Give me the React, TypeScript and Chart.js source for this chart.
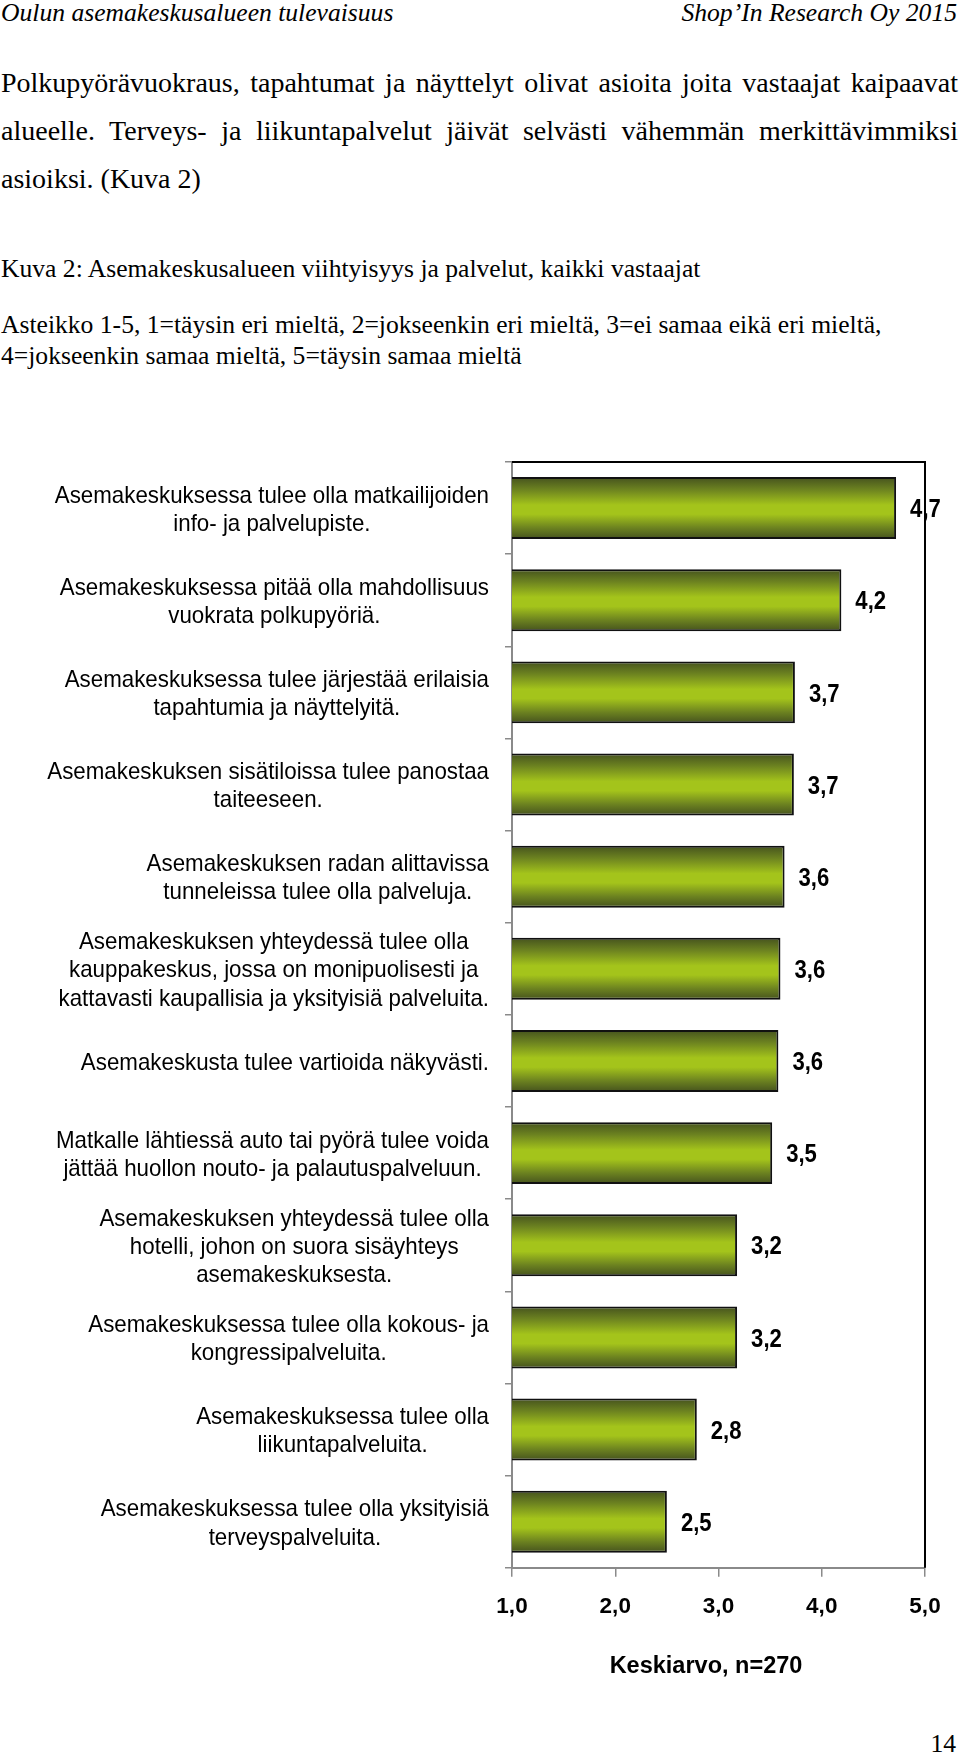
import React, { useEffect, useRef } from "react";
import { Chart, registerables } from "chart.js";

Chart.register(...registerables);

// ---- data ----
const categories: string[][] = [
  ["Asemakeskuksessa tulee olla matkailijoiden", "info- ja palvelupiste."],
  ["Asemakeskuksessa pitää olla mahdollisuus", "vuokrata polkupyöriä."],
  ["Asemakeskuksessa tulee järjestää erilaisia", "tapahtumia ja näyttelyitä."],
  ["Asemakeskuksen sisätiloissa tulee panostaa", "taiteeseen."],
  ["Asemakeskuksen radan alittavissa", "tunneleissa tulee olla palveluja."],
  [
    "Asemakeskuksen yhteydessä tulee olla",
    "kauppakeskus, jossa on monipuolisesti ja",
    "kattavasti kaupallisia ja yksityisiä palveluita.",
  ],
  ["Asemakeskusta tulee vartioida näkyvästi."],
  ["Matkalle lähtiessä auto tai pyörä tulee voida", "jättää huollon nouto- ja palautuspalveluun."],
  ["Asemakeskuksen yhteydessä tulee olla", "hotelli, johon on suora sisäyhteys", "asemakeskuksesta."],
  ["Asemakeskuksessa tulee olla kokous- ja", "kongressipalveluita."],
  ["Asemakeskuksessa tulee olla", "liikuntapalveluita."],
  ["Asemakeskuksessa tulee olla yksityisiä", "terveyspalveluita."],
];
const values: number[] = [4.72, 4.19, 3.74, 3.73, 3.64, 3.6, 3.58, 3.52, 3.18, 3.18, 2.79, 2.5];
const xMin = 1;
const xMax = 5;
const xStep = 1;
const xTitle = "Keskiarvo, n=270";

const fmt = (v: number) => v.toFixed(1).replace(".", ",");

const SANS = "'Liberation Sans', Arial, Helvetica, sans-serif";
const SERIF = "'Liberation Serif', 'Times New Roman', serif";

const framePlugin = {
  id: "frame",
  beforeDatasetsDraw(chart: any) {
    const { ctx, chartArea: a } = chart;
    ctx.save();
    ctx.strokeStyle = "#000";
    ctx.lineWidth = 2;
    ctx.beginPath();
    ctx.moveTo(a.left, a.top);
    ctx.lineTo(a.right, a.top);
    ctx.lineTo(a.right, a.bottom);
    ctx.stroke();
    ctx.restore();
  },
};

const LABEL_RIGHT = 489;
const LABEL_LINE = 28.3;
const LABEL_SX = 0.93;
const VALUE_SX = 0.85;

const yLabelPlugin = {
  id: "yLabels",
  afterDraw(chart: any) {
    const { ctx } = chart;
    const ys = chart.scales.y;
    ctx.save();
    ctx.font = `24px ${SANS}`;
    ctx.fillStyle = "#000";
    ctx.textAlign = "center";
    ctx.textBaseline = "middle";
    categories.forEach((lines, i) => {
      const w = Math.max(...lines.map((l) => ctx.measureText(l).width)) * LABEL_SX;
      const cx = LABEL_RIGHT - w / 2;
      const cy = ys.getPixelForValue(i) + 2;
      lines.forEach((l, j) => {
        ctx.save();
        ctx.translate(cx, cy + (j - (lines.length - 1) / 2) * LABEL_LINE);
        ctx.scale(LABEL_SX, 1);
        ctx.fillText(l, 0, 0);
        ctx.restore();
      });
    });
    ctx.restore();
  },
};

const valueLabelPlugin = {
  id: "valueLabels",
  afterDatasetsDraw(chart: any) {
    const { ctx } = chart;
    const meta = chart.getDatasetMeta(0);
    ctx.save();
    ctx.font = `bold 26px ${SANS}`;
    ctx.fillStyle = "#000";
    ctx.textAlign = "left";
    ctx.textBaseline = "middle";
    meta.data.forEach((bar: any, i: number) => {
      ctx.save();
      ctx.translate(bar.x + 14, bar.y + 2);
      ctx.scale(VALUE_SX, 1);
      ctx.fillText(fmt(values[i]), 0, 0);
      ctx.restore();
    });
    ctx.restore();
  },
};

const BAR_PCT = 0.672;

function barFill(context: any) {
  const chart = context.chart;
  const area = chart.chartArea;
  const ys = chart.scales && chart.scales.y;
  if (!area || !ys) return "#93b31c";
  const cy = ys.getPixelForValue(context.dataIndex);
  const h = ((area.bottom - area.top) / categories.length) * BAR_PCT;
  const g = chart.ctx.createLinearGradient(0, cy - h / 2, 0, cy + h / 2);
  g.addColorStop(0, "#45521e");
  g.addColorStop(0.2, "#6c8220");
  g.addColorStop(0.45, "#a4c41b");
  g.addColorStop(0.6, "#a4c41b");
  g.addColorStop(0.82, "#6c8220");
  g.addColorStop(1, "#45521e");
  return g;
}

function BarChart() {
  const ref = useRef<HTMLCanvasElement | null>(null);
  useEffect(() => {
    if (!ref.current) return;
    const chart = new Chart(ref.current, {
      type: "bar",
      data: {
        labels: categories.map((c) => c.join(" ")),
        datasets: [
          {
            data: values,
            backgroundColor: barFill as any,
            borderColor: "#111",
            borderWidth: 2,
            borderSkipped: false,
            barPercentage: BAR_PCT,
            categoryPercentage: 1,
          },
        ],
      },
      options: {
        indexAxis: "y",
        responsive: false,
        animation: false,
        devicePixelRatio: 1,
        events: [],
        layout: { padding: { top: 22, left: 487, right: 35, bottom: 19 } },
        plugins: {
          legend: { display: false },
          tooltip: { enabled: false },
          title: {
            display: true,
            position: "bottom",
            text: xTitle,
            color: "#000",
            font: { family: SANS, size: 23.5, weight: "bold" },
            padding: { top: 17, bottom: 0 },
          },
        },
        scales: {
          x: {
            type: "linear",
            min: xMin,
            max: xMax,
            grid: {
              display: true,
              drawOnChartArea: false,
              drawTicks: true,
              tickLength: 9,
              color: "#8a8a8a",
              lineWidth: 1.5,
            },
            border: { display: true, color: "#8a8a8a", width: 2 },
            ticks: {
              stepSize: xStep,
              padding: 16,
              color: "#000",
              font: { family: SANS, size: 22.5, weight: "bold" },
              callback: (v: any) => fmt(Number(v)),
            },
          },
          y: {
            type: "category",
            grid: {
              display: true,
              drawOnChartArea: false,
              drawTicks: true,
              tickLength: 7,
              color: "#8a8a8a",
              lineWidth: 1.5,
            },
            border: { display: true, color: "#8a8a8a", width: 2 },
            ticks: { display: false },
            afterFit: (scale: any) => {
              scale.width = 25;
            },
          },
        },
      },
      plugins: [framePlugin, yLabelPlugin, valueLabelPlugin],
    } as any);
    return () => chart.destroy();
  }, []);
  return (
    <canvas
      ref={ref}
      width={960}
      height={1260}
      style={{ position: "absolute", left: 0, top: 440, width: 960, height: 1260, display: "block" }}
    />
  );
}

export default function App() {
  useEffect(() => {
    document.body.style.margin = "0";
    document.documentElement.style.overflow = "hidden";
  }, []);
  const base: React.CSSProperties = {
    position: "absolute",
    fontFamily: SERIF,
    color: "#000",
    whiteSpace: "nowrap",
  };
  const small = 25.6;
  const para = 28;
  const justified: React.CSSProperties = {
    ...base,
    left: 1,
    width: 957,
    fontSize: para,
    lineHeight: "47px",
    whiteSpace: "normal",
    textAlign: "justify",
    textAlignLast: "justify",
  };
  return (
    <div style={{ position: "relative", width: 960, height: 1755, overflow: "hidden", background: "#fff" }}>
      <div style={{ ...base, left: 1, top: 0, fontSize: small, lineHeight: "26px", fontStyle: "italic" }}>
        Oulun asemakeskusalueen tulevaisuus
      </div>
      <div style={{ ...base, right: 3, top: 0, fontSize: small, lineHeight: "26px", fontStyle: "italic" }}>
        Shop’In Research Oy 2015
      </div>
      <div style={{ ...justified, top: 59 }}>
        Polkupyörävuokraus, tapahtumat ja näyttelyt olivat asioita joita vastaajat kaipaavat
      </div>
      <div style={{ ...justified, top: 107 }}>
        alueelle. Terveys- ja liikuntapalvelut jäivät selvästi vähemmän merkittävimmiksi
      </div>
      <div style={{ ...base, left: 1, top: 155, fontSize: para, lineHeight: "47px" }}>asioiksi. (Kuva 2)</div>
      <div style={{ ...base, left: 1, top: 254, fontSize: small, lineHeight: "30px" }}>
        Kuva 2: Asemakeskusalueen viihtyisyys ja palvelut, kaikki vastaajat
      </div>
      <div style={{ ...base, left: 1, top: 309, fontSize: small, lineHeight: "31px" }}>
        Asteikko 1-5, 1=täysin eri mieltä, 2=jokseenkin eri mieltä, 3=ei samaa eikä eri mieltä,
        <br />
        4=jokseenkin samaa mieltä, 5=täysin samaa mieltä
      </div>
      <BarChart />
      <div style={{ ...base, right: 4, top: 1729, fontSize: small, lineHeight: "30px" }}>14</div>
    </div>
  );
}
